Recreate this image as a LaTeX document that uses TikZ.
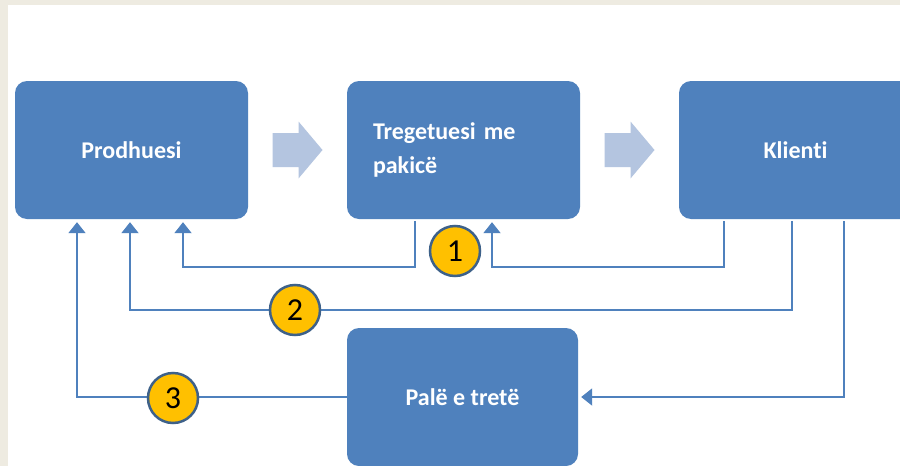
\documentclass[tikz,border=0pt]{standalone}
\usepackage{fontspec}
\setmainfont{Carlito}[Ligatures=NoCommon]
\usetikzlibrary{arrows.meta}
\definecolor{boxblue}{HTML}{4F81BD}
\definecolor{lightarrow}{HTML}{B4C5E0}
\definecolor{framebg}{HTML}{EEEBE1}
\definecolor{numyellow}{HTML}{FFC000}
\definecolor{numedge}{HTML}{3E6189}
\tikzset{
  box/.style={fill=boxblue, rounded corners=12pt, minimum width=233pt, minimum height=138pt,
    inner sep=0pt, text=white, font=\fontsize{24}{34}\selectfont\bfseries},
  fb/.style={draw=boxblue, line width=2pt, -{Triangle[width=17pt,length=11pt]}},
  num/.style={circle, fill=numyellow, draw=numedge, line width=2.5pt, minimum size=50pt,
    inner sep=0pt, font=\fontsize{32}{32}\selectfont},
  blockarrow/.style={fill=lightarrow}
}
\begin{document}
\begin{tikzpicture}[x=1pt, y=-1pt]
\useasboundingbox (0,0) rectangle (900,466);
\clip (0,0) rectangle (900,466);
\fill[framebg] (0,0) rectangle (900,466);
\fill[white] (8,5) rectangle (900,466);

\node[box] (prod) at (131.5,150) {Prodhuesi};
\node[box, align=left, text width=181pt] (treg) at (463.5,150) {Tregetuesi me\\pakicë};
\node[box] (klient) at (795.5,150) {Klienti};
\node[box, minimum width=231pt] (pal) at (462.5,397) {Palë e tretë};

\path (prod.east) -- (treg.west) coordinate[midway] (m1);
\path (treg.east) -- (klient.west) coordinate[midway] (m2);
\foreach \m in {m1,m2}
  \fill[blockarrow] (\m) ++(-25,-17) -- ++(26,0) -- ++(0,-11.5) -- ++(24,28.5)
    -- ++(-24,28.5) -- ++(0,-11.5) -- ++(-26,0) -- cycle;

\coordinate (pa) at ([xshift=-54.5pt,yshift=-3pt]prod.south);
\coordinate (pb) at ([xshift=-1.5pt,yshift=-3pt]prod.south);
\coordinate (pc) at ([xshift=51.5pt,yshift=-3pt]prod.south);
\coordinate (ta) at ([xshift=-48.5pt,yshift=-2pt]treg.south);
\coordinate (tb) at ([xshift=28.5pt,yshift=-3pt]treg.south);
\coordinate (ka) at ([xshift=-71.5pt,yshift=-2pt]klient.south);
\coordinate (kb) at ([xshift=-3.5pt,yshift=-2pt]klient.south);
\coordinate (kc) at ([xshift=48.5pt,yshift=-2pt]klient.south);
\coordinate (r1) at (0,267);
\coordinate (r2) at (0,310);

\draw[fb] (ta) |- (r1 -| pc) -- (pc);
\draw[fb] (ka) |- (r1 -| tb) -- (tb);
\draw[fb] (kb) |- (r2 -| pb) -- (pb);
\draw[fb] (kc) |- ([xshift=3pt]pal.east);
\draw[fb] (pal.west) -| (pa);

\node[num] (n1) at (455,251) {1};
\node[num] (n2) at (295,310) {2};
\node[num] (n3) at (173,398) {3};
\end{tikzpicture}
\end{document}
